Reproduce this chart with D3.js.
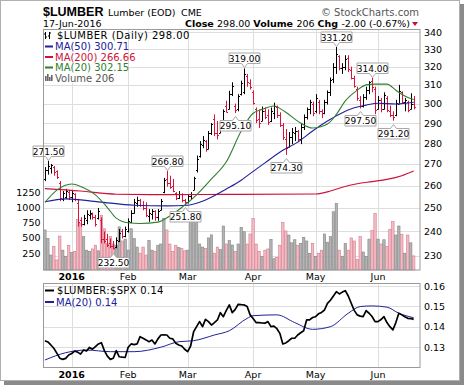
<!DOCTYPE html>
<html>
<head>
<meta charset="utf-8">
<script src="https://cdn.jsdelivr.net/npm/d3@7"></script>
<style>
  body { margin: 0; background: #fff; }
  svg { display: block; font-family: "DejaVu Sans", sans-serif; }
</style>
</head>
<body>
<div id="chart"></div>
<script>
// trading calendar (weekdays minus exchange holidays)
var firstDay = "2015-12-18";
var lastDay = "2016-06-17";
var holidays = ["2015-12-25", "2016-01-01", "2016-01-18", "2016-02-15", "2016-03-25", "2016-05-30"];

// daily OHLC
var opens = [263, 267, 268, 268.5, 266.5, 261, 254, 255, 257, 255,
  256, 252, 245, 243, 245, 247, 247.5, 246, 245.5, 245,
  237, 237, 235, 234, 233.5, 236, 240, 238, 240, 244,
  248, 252, 253.5, 251.5, 250, 246.5, 247.5, 248.5, 246, 249,
  257, 263, 261, 260, 256.5, 254.5, 256, 253.5, 252.5, 255.5,
  258, 267, 274, 279, 281, 277, 285, 292, 285, 285,
  290, 299, 297, 305, 299, 297, 305, 306, 315, 311,
  306, 297, 292, 291, 296, 294, 291, 295, 298, 294,
  289, 282, 278, 283, 285, 286, 282, 288, 293, 297,
  300, 296, 301, 296, 295, 301, 306, 313, 320, 326,
  319, 320, 325, 318, 314, 308, 302, 299, 303.5, 307.5,
  312, 308, 297, 302, 297, 303, 296, 294, 294, 300,
  306, 301, 301, 297, 300];
var highs = [268.5, 271.5, 270, 269, 267, 262, 257.5, 258.5, 258, 258,
  256.5, 254, 246, 247, 249, 249, 248, 247, 250, 246,
  240, 239, 237, 236, 237.5, 241, 241, 242, 245.5, 249,
  254, 255, 254, 253, 252.5, 249.5, 249.5, 249, 249.5, 254,
  263.5, 266.8, 264.5, 263, 257, 257.5, 256.5, 254, 256, 257,
  264, 274, 281, 283.5, 281.5, 286, 290, 294.4, 291, 291,
  297, 301.5, 306.8, 311.4, 300, 305, 312.3, 319, 316, 313,
  307, 298, 297, 298.5, 298, 297, 298, 300.5, 299, 295.5,
  290, 287, 285.5, 287.5, 288, 286.5, 289.5, 294.4, 298, 302,
  301, 305, 302, 297, 302, 307, 314, 322, 331.2, 326.5,
  322, 326.5, 326.5, 320, 315, 309, 304, 305, 309, 312,
  314, 309, 304, 303, 306, 304, 299, 296, 302, 310,
  306.5, 303, 301.5, 305.5, 304];
var lows = [262, 265, 265.5, 264.5, 263, 253, 253, 254, 253.5, 252.5,
  253, 242, 242, 242.5, 243, 245, 245, 242, 245, 235,
  235, 233.5, 233, 232.5, 233, 235.5, 237, 237.5, 239.5, 243.5,
  247.5, 250.5, 250.5, 249, 246, 244, 245, 244.5, 244.5, 249,
  256.5, 259.5, 258.5, 257, 253.5, 254, 252.5, 251.8, 252, 253.5,
  258, 266, 273, 277.5, 275.8, 277, 284, 283.5, 281.8, 285,
  288.5, 295.5, 297, 304, 295.1, 296, 304.3, 305, 309, 307.5,
  299.5, 290, 287.5, 291, 292, 289, 290.5, 292, 292.5, 288,
  281.5, 274.3, 278, 279.5, 281, 280.5, 279.5, 286.5, 291.8, 294.5,
  293.5, 295, 294.5, 292.5, 294.5, 299.5, 304, 311, 316, 318,
  316, 318, 317, 313, 308.5, 301.5, 297.5, 298, 302, 305,
  306, 294.5, 297, 295.5, 297, 295.5, 293, 291.2, 293.5, 300,
  300, 296, 295.5, 297, 297];
var closes = [267, 269, 269.5, 266, 264, 254.5, 256.5, 257.5, 255, 256.5,
  254, 244, 243, 245.5, 247.5, 248, 246, 243, 248.5, 237,
  236, 234.5, 234, 233, 236.5, 239.5, 238, 241, 244.5, 248,
  252.5, 253.5, 251.5, 250, 247, 248, 248.5, 246, 248.5, 253,
  262.5, 261, 259.5, 257.5, 254.5, 256, 253.5, 252.5, 255.5, 256,
  263.5, 272.5, 279.5, 281.5, 277, 285, 289.5, 285, 284, 290,
  296, 295.5, 305, 309.5, 296.5, 304, 311, 316, 311.5, 309,
  300.5, 291.5, 290, 296, 293, 290.5, 296, 299, 294, 289,
  283, 277.5, 283, 285.5, 286, 282, 288, 293, 297, 301,
  295, 303, 296, 295, 301, 306, 312.5, 320, 327, 319.5,
  320, 324.5, 318.5, 314, 309.5, 303, 299, 303.5, 307.5, 311.5,
  309, 296.5, 302, 297, 304.5, 296.5, 294, 293, 300.5, 306.5,
  301, 302, 296.5, 300, 298];
var volumes = [630, 490, 220, 360, 140, 530, 300, 200, 380, 260,
  280, 800, 740, 520, 300, 280, 320, 380, 290, 870,
  650, 410, 520, 400, 380, 680, 450, 480, 300, 650,
  490, 350, 250, 350, 220, 460, 300, 280, 380, 400,
  820, 630, 400, 280, 380, 340, 330, 290, 300, 790,
  820, 800, 400, 350, 330, 500, 550, 250, 350, 313,
  694, 400, 455, 384, 280, 400, 673, 601, 400, 564,
  820, 400, 280, 200, 300, 320, 477, 160, 183, 380,
  749, 613, 547, 420, 470, 380, 410, 510, 450, 248,
  410, 200, 250, 300, 564, 430, 520, 928, 1065, 300,
  200, 410, 300, 500, 450, 150, 520, 270, 200, 480,
  618, 902, 480, 400, 470, 360, 641, 765, 547, 694,
  560, 250, 547, 420, 206];

// $LUMBER:$SPX ratio, one value per bar
var ratio = [.1331, .1325, .1310, .1294, .1270, .1245, .1239, .1244, .1261, .1268,
  .1280, .1275, .1265, .1285, .1280, .1298, .1289, .1302, .1315, .1321,
  .1282, .1255, .1239, .1245, .1282, .1252, .1250, .1249, .1299, .1315,
  .1312, .1315, .1351, .1343, .1335, .1326, .1334, .1315, .1340, .1359,
  .1360, .1359, .1343, .1340, .1318, .1310, .1305, .1289, .1277, .1305,
  .1375, .1400, .1425, .1400, .1436, .1425, .1408, .1420, .1433, .1469,
  .1449, .1480, .1507, .1469, .1485, .1510, .1508, .1507, .1499, .1458,
  .1440, .1420, .1420, .1418, .1417, .1425, .1400, .1403, .1390, .1367,
  .1315, .1320, .1331, .1343, .1343, .1359, .1370, .1380, .1433, .1433,
  .1445, .1449, .1463, .1470, .1482, .1515, .1530, .1551, .1572, .1561,
  .1570, .1577, .1551, .1515, .1480, .1458, .1452, .1449, .1479, .1466,
  .1450, .1425, .1425, .1435, .1449, .1420, .1400, .1384, .1420, .1466,
  .1458, .1449, .1441, .1440, .1436];

// moving averages, read at sample bars
var ma50Idx = [0, 7, 18, 30, 41, 48, 54, 61, 66, 70, 74, 80, 85, 90, 95, 99, 104, 108, 112, 118, 124];
var ma50Val = [252.7, 254, 252.7, 251.2, 250.9, 251.2, 253.5, 258.4, 262.4, 266.5, 270.5, 276.5, 280.5, 286, 291, 294.5, 297.8, 299.2, 300.2, 299.8, 300.71];
var ma200Idx = [0, 12, 24, 40, 60, 91, 96, 100, 105, 110, 115, 120, 124];
var ma200Val = [258.6, 257.5, 256.1, 255.9, 256, 256.2, 257.5, 259.2, 260.8, 261.8, 262.8, 264.5, 266.66];
var ma20Idx = [0, 4, 9, 13, 17, 21, 24, 28, 32, 38, 42, 46, 51, 56, 61, 66, 70, 73, 77, 81, 86, 90, 95, 98, 101, 105, 108, 111, 115, 118, 121, 124];
var ma20Val = [252.4, 257.9, 260.7, 259, 255.8, 250.2, 245.6, 243.6, 243.3, 243.9, 246.5, 250.2, 255.8, 263, 271, 286, 295, 297, 298.8, 295.5, 290, 287.5, 289.5, 294.4, 301.4, 307.1, 310, 310.4, 310.4, 307.1, 304, 302.15];
var ratioMaIdx = [0, 7, 14, 22, 30, 39, 45, 50, 57, 62, 68, 70, 78, 84, 90, 96, 102, 106, 110, 115, 119, 124];
var ratioMaVal = [.1236, .1272, .1285, .1277, .1277, .1299, .1326, .1331, .1359, .1380, .1441, .1454, .1458, .1420, .1387, .1400, .1466, .1499, .1502, .1496, .1466, .1444];

// labelled turning points
var noteIdx = [1, 23, 41, 47, 64, 67, 81, 98, 106, 110, 117];
var noteSide = ["hi", "lo", "hi", "lo", "lo", "hi", "lo", "hi", "lo", "hi", "lo"];

// axis ticks
var priceTicks = [230, 240, 250, 260, 270, 280, 290, 300, 310, 320, 330, 340];
var volumeTicks = [250, 500, 750, 1000, 1250];
var ratioTicks = [0.13, 0.14, 0.15, 0.16];

// setup chart dimensions
var svgWidth = 464;
var svgHeight = 387;
var plot = { left: 43, right: 420, top: 29.5, bottom: 270 };
var lower = { top: 283.5, bottom: 367.5 };

var upColor = "#000";
var downColor = "#dc143c";

var svg = d3.select("#chart")
  .append("svg")
  .attr("width", svgWidth)
  .attr("height", svgHeight);

// build trading days
var parseDay = d3.utcParse("%Y-%m-%d");
var fmtDay = d3.utcFormat("%Y-%m-%d");
var dates = d3.utcDay.range(parseDay(firstDay), d3.utcDay.offset(parseDay(lastDay), 1))
  .filter(d => d.getUTCDay() % 6 !== 0 && holidays.indexOf(fmtDay(d)) < 0);

var bars = dates.map((d, i) => ({
  i: i, date: d, o: opens[i], h: highs[i], l: lows[i], c: closes[i], v: volumes[i],
  up: i === 0 ? true : closes[i] >= closes[i - 1]
}));

// month starts for gridlines / labels
var monthTicks = [];
dates.forEach((d, i) => {
  if (i > 0 && d.getUTCMonth() !== dates[i - 1].getUTCMonth()) monthTicks.push(i);
});
function monthLabel(i) {
  var d = dates[i];
  return d.getUTCMonth() === 0 ? d3.utcFormat("%Y")(d) : d3.utcFormat("%b")(d);
}

// scales
var xScale = d3.scaleLinear().domain([0, dates.length - 1]).range([44.9, 413.7]);
var yPrice = d3.scaleLog().domain([230, 340]).range([255.7, 32]);
var yVol = d3.scaleLinear().domain([0, 1250]).range([268.5, 192]);
var yRatio = d3.scaleLinear().domain([0.13, 0.16]).range([347, 286]);
var px = i => Math.round(xScale(i)) + 0.5;

// outer frame and drop shadow
svg.append("rect").attr("x", 460).attr("y", 4).attr("width", 4).attr("height", 381).attr("fill", "#8a8a8a");
svg.append("rect").attr("x", 4).attr("y", 381).attr("width", 460).attr("height", 4).attr("fill", "#8a8a8a");
svg.append("rect").attr("x", 0.5).attr("y", 0.5).attr("width", 459).attr("height", 380)
  .attr("fill", "#fff").attr("stroke", "#b0b0b0");

// header text
var head = svg.append("g");
head.append("text").attr("x", 43).attr("y", 16).attr("font-family", "'Liberation Sans', Arial, sans-serif")
  .attr("font-size", 12.5).attr("font-weight", "bold").text("$LUMBER");
head.append("text").attr("x", 108).attr("y", 15.5).attr("font-size", 9.5).text("Lumber (EOD)");
head.append("text").attr("x", 181).attr("y", 15.5).attr("font-size", 9.5).text("CME");
head.append("text").attr("x", 419).attr("y", 15.5).attr("font-size", 10).attr("fill", "#555")
  .attr("text-anchor", "end").text("\u00A9 StockCharts.com");
head.append("text").attr("x", 43).attr("y", 26.5).attr("font-size", 9.5)
  .text(d3.utcFormat("%d-%b-%Y")(dates[dates.length - 1]));

var last = bars[bars.length - 1];
var prevClose = closes[closes.length - 2];
var chg = last.c - prevClose;
var stats = head.append("text").attr("x", 410).attr("y", 26.5).attr("font-size", 9.5).attr("text-anchor", "end");
stats.append("tspan").attr("font-weight", "bold").text("Close ");
stats.append("tspan").text(last.c.toFixed(2) + "  ");
stats.append("tspan").attr("font-weight", "bold").text("Volume ");
stats.append("tspan").text(last.v + "  ");
stats.append("tspan").attr("font-weight", "bold").text("Chg ");
stats.append("tspan").text(chg.toFixed(2) + " (" + (chg / prevClose * 100).toFixed(2) + "%)");
head.append("path").attr("d", "M412,22 L418,22 L415,26 Z").attr("fill", chg < 0 ? "#c0103a" : "#080");

// ---------- main price panel ----------
var main = svg.append("g");
main.append("rect").attr("x", plot.left).attr("y", plot.top)
  .attr("width", plot.right - plot.left).attr("height", plot.bottom - plot.top).attr("fill", "#fff");

// gridlines
main.selectAll(".hgrid").data(priceTicks).enter().append("line")
  .attr("x1", plot.left).attr("x2", plot.right)
  .attr("y1", d => Math.round(yPrice(d)) + 0.5).attr("y2", d => Math.round(yPrice(d)) + 0.5)
  .attr("stroke", "#dedede");
main.selectAll(".vgrid").data(monthTicks).enter().append("line")
  .attr("x1", d => px(d)).attr("x2", d => px(d))
  .attr("y1", plot.top).attr("y2", plot.bottom)
  .attr("stroke", "#dedede");

// volume overlay
main.selectAll(".vol").data(bars).enter().append("rect")
  .attr("x", d => xScale(d.i) - 1.2)
  .attr("y", d => yVol(d.v))
  .attr("width", 2.4)
  .attr("height", d => yVol(0) - yVol(d.v) + 1.5)
  .attr("fill", d => d.up ? "#b3b3b3" : "#f2bcc4")
  .attr("stroke", d => d.up ? "#858585" : "#d97a8c")
  .attr("stroke-width", 0.6);

// price bars
var barG = main.selectAll(".bar").data(bars).enter().append("g")
  .attr("stroke", d => d.up ? upColor : downColor)
  .attr("stroke-width", 1);
barG.append("line")
  .attr("x1", d => px(d.i)).attr("x2", d => px(d.i))
  .attr("y1", d => yPrice(d.h)).attr("y2", d => yPrice(d.l));
barG.append("line")
  .attr("x1", d => px(d.i) - 1.5).attr("x2", d => px(d.i))
  .attr("y1", d => Math.round(yPrice(d.o)) + 0.5).attr("y2", d => Math.round(yPrice(d.o)) + 0.5);
barG.append("line")
  .attr("x1", d => px(d.i)).attr("x2", d => px(d.i) + 1.5)
  .attr("y1", d => Math.round(yPrice(d.c)) + 0.5).attr("y2", d => Math.round(yPrice(d.c)) + 0.5);

// moving average lines
function maLine(idx, vals, yS) {
  return d3.line().curve(d3.curveMonotoneX)
    .x((d, k) => xScale(idx[k]))
    .y(d => yS(d))(vals);
}
main.append("path").attr("d", maLine(ma200Idx, ma200Val, yPrice))
  .attr("fill", "none").attr("stroke", "#d0103a").attr("stroke-width", 1.1);
main.append("path").attr("d", maLine(ma50Idx, ma50Val, yPrice))
  .attr("fill", "none").attr("stroke", "#20209a").attr("stroke-width", 1.1);
main.append("path").attr("d", maLine(ma20Idx, ma20Val, yPrice))
  .attr("fill", "none").attr("stroke", "#2f7f2f").attr("stroke-width", 1.1);

// turning point callouts
var bw = 31, bh = 10.5;
noteIdx.forEach(function(i, k) {
  var hi = noteSide[k] === "hi";
  var val = hi ? highs[i] : lows[i];
  var cx = Math.round(xScale(i)) + 0.5;
  var py = yPrice(val);
  var left = cx - bw / 2, right = cx + bw / 2;
  var path, ty;
  if (hi) {
    var bottom = Math.round(py - 5) + 0.5, top = bottom - bh;
    path = `M${left},${top}H${right}V${bottom}H${cx + 3}L${cx},${bottom + 4}L${cx - 3},${bottom}H${left}Z`;
    ty = bottom - 2;
  } else {
    var top2 = Math.round(py + 7) + 0.5, bottom2 = top2 + bh;
    path = `M${left},${top2}H${cx - 3}L${cx},${top2 - 4}L${cx + 3},${top2}H${right}V${bottom2}H${left}Z`;
    ty = bottom2 - 2;
  }
  main.append("path").attr("d", path).attr("fill", "#fff").attr("stroke", "#a8a8a8").attr("stroke-width", 1);
  main.append("text").attr("x", cx).attr("y", ty).attr("text-anchor", "middle")
    .attr("font-size", 9).text(val.toFixed(2));
});

// legend box
var leg = main.append("g");
leg.append("rect").attr("x", plot.left + 0.5).attr("y", plot.top + 0.5).attr("width", 84).attr("height", 53).attr("fill", "#fff");
// tiny ohlc glyph
leg.append("path").attr("d", "M45.5,32V39M44,34H45.5M45.5,37H47M49.5,32V39M48,36H49.5M49.5,33H51")
  .attr("stroke", "#000").attr("fill", "none");
leg.append("text").attr("x", 57).attr("y", 39).attr("font-size", 10).attr("letter-spacing", 0.5)
  .text("$LUMBER (Daily) " + last.c.toFixed(2));
var legRows = [
  { label: "MA(50) " + ma50Val[ma50Val.length - 1].toFixed(2), color: "#20209a", y: 50 },
  { label: "MA(200) " + ma200Val[ma200Val.length - 1].toFixed(2), color: "#d0103a", y: 60.5 },
  { label: "MA(20) " + ma20Val[ma20Val.length - 1].toFixed(2), color: "#2f7f2f", y: 71 }
];
legRows.forEach(function(r) {
  leg.append("line").attr("x1", 45).attr("x2", 53).attr("y1", r.y - 3.5).attr("y2", r.y - 3.5)
    .attr("stroke", r.color).attr("stroke-width", 2);
  leg.append("text").attr("x", 55).attr("y", r.y).attr("font-size", 10).attr("fill", r.color).text(r.label);
});
// volume glyph
[[45, 5], [47, 7], [49, 4], [51, 6]].forEach(function(b) {
  leg.append("rect").attr("x", b[0]).attr("y", 81 - b[1]).attr("width", 1.6).attr("height", b[1]).attr("fill", "#666");
});
leg.append("text").attr("x", 55).attr("y", 81.5).attr("font-size", 10).attr("fill", "#555").text("Volume " + last.v);

main.append("rect").attr("x", plot.left + 0.5).attr("y", plot.top)
  .attr("width", plot.right - plot.left - 0.5).attr("height", plot.bottom - plot.top)
  .attr("fill", "none").attr("stroke", "#9a9a9a");

// right price axis labels
main.selectAll(".ptick").data(priceTicks).enter().append("text")
  .attr("x", 424).attr("y", d => yPrice(d) + 3.5)
  .attr("font-size", 9.5).text(d => d);

// left volume axis labels
main.selectAll(".vtick").data(volumeTicks).enter().append("text")
  .attr("x", 40.5).attr("y", d => yVol(d) + 3.5).attr("text-anchor", "end")
  .attr("font-size", 9.5).text(d => d);

// month labels under main panel
main.selectAll(".mlab").data(monthTicks).enter().append("text")
  .attr("x", d => xScale(d)).attr("y", 280).attr("text-anchor", "middle")
  .attr("font-size", 9.5)
  .attr("font-weight", d => dates[d].getUTCMonth() === 0 ? "bold" : "normal")
  .text(d => monthLabel(d));

// ---------- ratio panel ----------
var low = svg.append("g");
low.selectAll(".rgrid").data(ratioTicks).enter().append("line")
  .attr("x1", plot.left).attr("x2", plot.right)
  .attr("y1", d => Math.round(yRatio(d)) + 0.5).attr("y2", d => Math.round(yRatio(d)) + 0.5)
  .attr("stroke", "#dedede");
low.selectAll(".rvgrid").data(monthTicks).enter().append("line")
  .attr("x1", d => px(d)).attr("x2", d => px(d))
  .attr("y1", lower.top).attr("y2", lower.bottom)
  .attr("stroke", "#dedede");

low.append("path").attr("d", maLine(ratioMaIdx, ratioMaVal, yRatio))
  .attr("fill", "none").attr("stroke", "#20209a").attr("stroke-width", 1);
low.append("path")
  .attr("d", d3.line().x((d, i) => xScale(i)).y(d => yRatio(d))(ratio))
  .attr("fill", "none").attr("stroke", "#000").attr("stroke-width", 1.7).attr("stroke-linejoin", "round");

low.append("line").attr("x1", 45).attr("x2", 54).attr("y1", 290.5).attr("y2", 290.5).attr("stroke", "#000").attr("stroke-width", 2);
low.append("text").attr("x", 57).attr("y", 294).attr("font-size", 10).attr("letter-spacing", 0.3)
  .text("$LUMBER:$SPX " + ratio[ratio.length - 1].toFixed(2));
low.append("line").attr("x1", 45).attr("x2", 54).attr("y1", 302).attr("y2", 302).attr("stroke", "#20209a").attr("stroke-width", 2);
low.append("text").attr("x", 56).attr("y", 305.5).attr("font-size", 10).attr("fill", "#20209a")
  .text("MA(20) " + ratioMaVal[ratioMaVal.length - 1].toFixed(2));

low.append("rect").attr("x", plot.left + 0.5).attr("y", lower.top)
  .attr("width", plot.right - plot.left - 0.5).attr("height", lower.bottom - lower.top)
  .attr("fill", "none").attr("stroke", "#9a9a9a");

low.selectAll(".rtick").data(ratioTicks).enter().append("text")
  .attr("x", 424).attr("y", d => yRatio(d) + 3.5)
  .attr("font-size", 9.5).text(d => d.toFixed(2));

low.selectAll(".mlab2").data(monthTicks).enter().append("text")
  .attr("x", d => xScale(d)).attr("y", 378).attr("text-anchor", "middle")
  .attr("font-size", 9.5)
  .attr("font-weight", d => dates[d].getUTCMonth() === 0 ? "bold" : "normal")
  .text(d => monthLabel(d));
</script>
</body>
</html>
